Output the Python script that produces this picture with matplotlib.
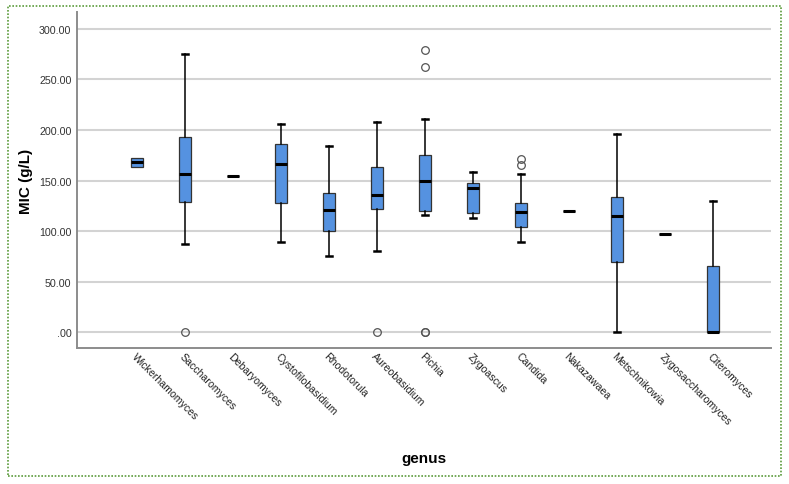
import numpy as np
import matplotlib
matplotlib.use('Agg')
import matplotlib.pyplot as plt
from matplotlib.patches import Rectangle

plt.rcParams['font.family'] = ['Liberation Sans', 'DejaVu Sans']

# data (MIC, g/L)
genus = ['Wickerhamomyces', 'Saccharomyces', 'Debaryomyces', 'Cystofilobasidium',
         'Rhodotorula', 'Aureobasidium', 'Pichia', 'Zygoascus', 'Candida',
         'Nakazawaea', 'Metschnikowia', 'Zygosaccharomyces', 'Citeromyces']
med    = [168, 156, 154, 166, 121, 136, 150, 143, 119, 119.5, 115, 97, 0]
q1     = [163, 129, 154, 128, 100, 122, 120, 117.5, 103.5, 119.5, 69, 97, 0]
q3     = [172, 193, 154, 186, 137.5, 163.5, 175.5, 147.5, 128, 119.5, 134, 97, 65]
whislo = [163, 87, 154, 89.5, 75.5, 80, 116, 113, 89, 119.5, 0, 97, 0]
whishi = [172, 275, 154, 205.5, 184, 207.5, 210.5, 158.5, 156, 119.5, 196, 97, 130]
fliers = [[], [0], [], [], [], [0], [279, 262, 0, 0], [], [171, 165.5], [], [], [], []]

yticks = [0, 50, 100, 150, 200, 250, 300]
ytick_labels = ['.00', '50.00', '100.00', '150.00', '200.00', '250.00', '300.00']

fig = plt.figure(figsize=(7.89, 4.85), dpi=100)
ax = fig.add_axes([0.0976, 0.2804, 0.8794, 0.6928])

stats = []
for i, g in enumerate(genus):
    stats.append(dict(label=g, med=med[i], q1=q1[i], q3=q3[i],
                      whislo=whislo[i], whishi=whishi[i], fliers=fliers[i]))

pos = np.arange(1, len(genus) + 1)
bp = ax.bxp(stats, positions=pos, widths=0.25, capwidths=0.125, patch_artist=True,
            boxprops=dict(facecolor='#5592e0', edgecolor='#333333', linewidth=0.9),
            medianprops=dict(color='black', linewidth=2.2),
            whiskerprops=dict(color='black', linewidth=1.1),
            capprops=dict(color='black', linewidth=1.8),
            flierprops=dict(marker='o', markersize=5.5, markerfacecolor='none',
                            markeredgecolor='#555555', markeredgewidth=0.9),
            zorder=3)

# no caps where the whiskers sit on the box edges
for i in range(len(genus)):
    if whislo[i] == q1[i] and whishi[i] == q3[i]:
        bp['caps'][2 * i].set_visible(False)
        bp['caps'][2 * i + 1].set_visible(False)

ax.set_xlim(-0.25, 14.21)
ax.set_ylim(-15.8, 316.8)
ax.set_yticks(yticks)
ax.set_yticklabels(ytick_labels)
ax.yaxis.grid(True, color='#d3d3d3', linewidth=1.5, zorder=0)
ax.set_axisbelow(True)

ax.spines['right'].set_visible(False)
ax.spines['top'].set_visible(False)
for s in ['left', 'bottom']:
    ax.spines[s].set_color('#8c8c8c')
    ax.spines[s].set_linewidth(1.4)

ax.tick_params(axis='y', length=0, pad=4, labelsize=7.7, labelcolor='#333333')
ax.tick_params(axis='x', length=0, pad=2, labelsize=7.6, labelcolor='#222222')
ax.set_xticks(pos)
ax.set_xticklabels(genus, rotation=-45, ha='left', va='top', rotation_mode='anchor')

ax.set_ylabel('MIC (g/L)', fontsize=11, fontweight='bold')
ax.yaxis.set_label_coords(-0.063, 0.5)
ax.set_xlabel('genus', fontsize=11, fontweight='bold')
ax.xaxis.set_label_coords(0.5, -0.307)

# dotted green frame round the whole chart
frame = Rectangle((8 / 789, 1 - 477 / 485), 773 / 789, 470 / 485,
                  transform=fig.transFigure, fill=False, edgecolor='#5b9b3b',
                  linestyle=(0, (1, 1)), linewidth=1.2)
fig.patches.append(frame)

fig.savefig('out.png', dpi=100)
